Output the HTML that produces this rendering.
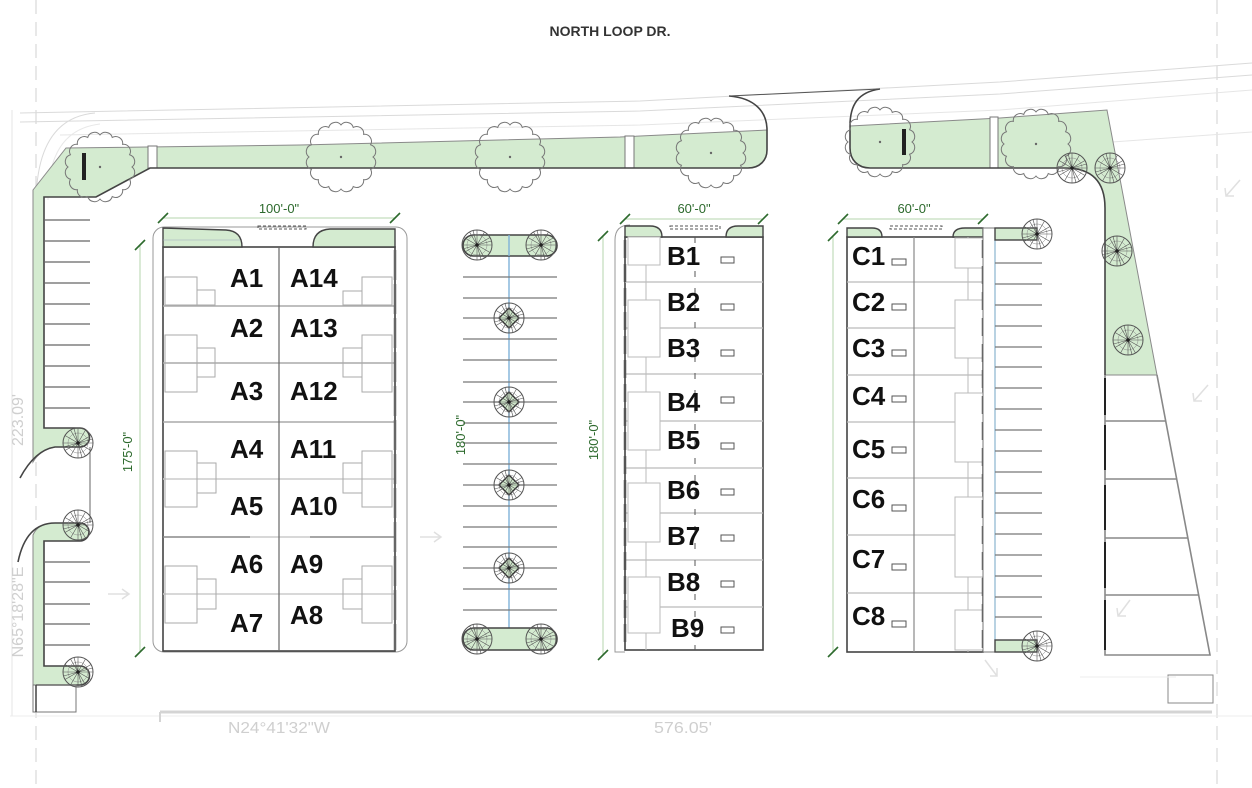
<!DOCTYPE html>
<html><head><meta charset="utf-8"><style>
html,body{margin:0;padding:0;background:#fff;}
svg{display:block;}
.lbl{font-family:"Liberation Sans",Arial,sans-serif;font-weight:bold;font-size:26px;fill:#111;}
.dim{font-family:"Liberation Sans",Arial,sans-serif;font-size:13px;fill:#2d6a2d;}
.faint{font-family:"Liberation Sans",Arial,sans-serif;font-size:16px;fill:#cfcfcf;}
</style></head><body>
<svg width="1252" height="788" viewBox="0 0 1252 788" xmlns="http://www.w3.org/2000/svg">
<defs>
<g id="sp">
<circle r="15" fill="none" stroke="#555" stroke-width="1"/>
<circle r="10" fill="none" stroke="#888" stroke-width="0.5"/>
<path d="M-15 0L15 0M-13 -7.5L13 7.5M-7.5 -13L7.5 13M0 -15L0 15M7.5 -13L-7.5 13M13 -7.5L-13 7.5M-4 -14.5L4 14.5M14.5 -4L-14.5 4" stroke="#555" stroke-width="0.6"/>
<circle r="1.8" fill="#222"/>
</g>
<g id="bt">
<path d="M32 0 A7 7 0 0 1 29.56 12.25 A7 7 0 0 1 22.63 22.63 A7 7 0 0 1 12.25 29.56 A7 7 0 0 1 0 32 A7 7 0 0 1 -12.25 29.56 A7 7 0 0 1 -22.63 22.63 A7 7 0 0 1 -29.56 12.25 A7 7 0 0 1 -32 0 A7 7 0 0 1 -29.56 -12.25 A7 7 0 0 1 -22.63 -22.63 A7 7 0 0 1 -12.25 -29.56 A7 7 0 0 1 0 -32 A7 7 0 0 1 12.25 -29.56 A7 7 0 0 1 22.63 -22.63 A7 7 0 0 1 29.56 -12.25 A7 7 0 0 1 32 0 Z" fill="none" stroke="#777" stroke-width="1"/>
<circle r="1.2" fill="#666"/>
</g>
<g id="dm">
<polygon points="0,-10 10,0 0,10 -10,0" fill="#cfe6ca" stroke="#333" stroke-width="1.4"/>
<use href="#sp"/>
</g>
</defs>

<!-- property dashed lines -->
<line x1="36" y1="0" x2="36" y2="788" stroke="#d8d8d8" stroke-width="1.2" stroke-dasharray="14 8"/>
<line x1="1217" y1="0" x2="1217" y2="788" stroke="#d8d8d8" stroke-width="1.2" stroke-dasharray="14 8"/>
<line x1="12" y1="110" x2="12" y2="716" stroke="#e6e6e6" stroke-width="1"/>

<!-- title -->
<text x="610" y="36" text-anchor="middle" style="font-family:'Liberation Sans',Arial,sans-serif;font-size:14px;font-weight:bold;fill:#333;">NORTH LOOP DR.</text>

<!-- road faint lines -->
<g fill="none" stroke="#dadada" stroke-width="1">
<path d="M20 113 L640 101 L1000 82 L1252 63"/>
<path d="M20 122 L640 111 L1000 94 L1252 75"/>
<path d="M60 135 L640 125 L1000 110 L1252 90" stroke="#e6e6e6"/>
<path d="M1112 142 L1252 132" stroke="#e6e6e6"/>
<path d="M36 205 Q36 118 95 113"/>
<path d="M48 200 Q48 130 100 124" stroke="#e8e8e8"/>
</g>

<!-- green areas -->
<g fill="#d4ebd0" stroke="#8a8a8a" stroke-width="1">
<path d="M66 148 L300 145 L620 137 L767 130 L767 150 C767 160 760 168 748 168 L150 168 L96 197 L44 197 L44 428 L80 428 A9.5 9.5 0 0 1 80 447 L55 447 Q40 450 33 462 L33 190 Z"/>
<path d="M33 535 Q38 523 55 523 L80 523 A9 9 0 0 1 80 541 L44 541 L44 666 L80 666 A9.5 9.5 0 0 1 80 685 L33 685 Z"/>
<path d="M850 126 L1000 118 L1107 110 L1157 375 L1105 375 L1105 208 Q1105 168 1065 168 L870 168 C858 168 850 160 850 148 Z"/>
</g>
<line x1="44" y1="199" x2="44" y2="428" stroke="#8ab4cf" stroke-width="1"/>

<!-- white gaps in strip -->
<g fill="#fff" stroke="#777" stroke-width="1">
<rect x="148" y="146" width="9" height="22"/>
<rect x="625" y="136" width="9" height="32"/>
<rect x="990" y="117" width="8" height="51"/>
</g>

<!-- dark curb edges -->
<g fill="none" stroke="#444" stroke-width="1.6">
<path d="M729 96 C755 98 767 112 767 130 L767 150 C767 160 760 168 748 168 L150 168 L96 197 L44 197 L44 428 L80 428 A9.5 9.5 0 0 1 80 447 L55 447 Q35 450 20 478"/>
<path d="M880 89 C858 92 850 105 850 126 L850 148 C850 160 858 168 870 168 L1065 168 Q1105 168 1105 208 L1105 375"/>
<path d="M18 562 Q26 523 55 523 L80 523 A9 9 0 0 1 80 541 L44 541 L44 666 L80 666 A9.5 9.5 0 0 1 80 685 L36 685"/>
</g>
<line x1="729" y1="96" x2="880" y2="89" stroke="#555" stroke-width="1"/>
<line x1="90" y1="447" x2="90" y2="523" stroke="#666" stroke-width="1"/>

<!-- benches -->
<rect x="82" y="153" width="4" height="27" fill="#222"/>
<rect x="902" y="129" width="4" height="26" fill="#222"/>

<!-- left stalls -->
<g stroke="#666" stroke-width="1.2">
<line x1="44" y1="220" x2="90" y2="220"/><line x1="44" y1="241" x2="90" y2="241"/>
<line x1="44" y1="262" x2="90" y2="262"/><line x1="44" y1="283" x2="90" y2="283"/>
<line x1="44" y1="304" x2="90" y2="304"/><line x1="44" y1="324" x2="90" y2="324"/>
<line x1="44" y1="345" x2="90" y2="345"/><line x1="44" y1="366" x2="90" y2="366"/>
<line x1="44" y1="387" x2="90" y2="387"/><line x1="44" y1="408" x2="90" y2="408"/>
<line x1="44" y1="562" x2="90" y2="562"/><line x1="44" y1="582" x2="90" y2="582"/>
<line x1="44" y1="604" x2="90" y2="604"/><line x1="44" y1="624" x2="90" y2="624"/>
<line x1="44" y1="645" x2="90" y2="645"/>
</g>
<rect x="33" y="685" width="43" height="27" fill="none" stroke="#777" stroke-width="1"/>
<line x1="36" y1="685" x2="36" y2="712" stroke="#444" stroke-width="1.5"/>

<!-- big trees -->
<use href="#bt" x="100" y="167"/>
<use href="#bt" x="341" y="157"/>
<use href="#bt" x="510" y="157"/>
<use href="#bt" x="711" y="153"/>
<use href="#bt" x="880" y="142"/>
<use href="#bt" x="1036" y="144"/>

<!-- spoke trees left/right -->
<use href="#sp" x="78" y="443"/>
<use href="#sp" x="78" y="525"/>
<use href="#sp" x="78" y="672"/>
<use href="#sp" x="1072" y="168"/>
<use href="#sp" x="1110" y="168"/>
<use href="#sp" x="1117" y="251"/>
<use href="#sp" x="1128" y="340"/>

<!-- right trapezoid stalls -->
<g fill="none" stroke="#888" stroke-width="1.6">
<path d="M1105 375 L1105 655 L1210 655 L1157 375"/>
<line x1="1105" y1="421" x2="1166" y2="421"/>
<line x1="1105" y1="479" x2="1177" y2="479"/>
<line x1="1105" y1="538" x2="1188" y2="538"/>
<line x1="1105" y1="595" x2="1199" y2="595"/>
</g>
<g stroke="#222" stroke-width="2">
<line x1="1105" y1="378" x2="1105" y2="415"/><line x1="1105" y1="425" x2="1105" y2="470"/>
<line x1="1105" y1="485" x2="1105" y2="530"/><line x1="1105" y1="542" x2="1105" y2="588"/>
<line x1="1105" y1="600" x2="1105" y2="650"/>
</g>
<rect x="1168" y="675" width="45" height="28" fill="none" stroke="#888" stroke-width="1"/>

<!-- ================= BUILDING A ================= -->
<rect x="153" y="227" width="254" height="425" rx="11" fill="none" stroke="#999" stroke-width="1"/>
<rect x="163" y="247" width="232" height="404" fill="#fff" stroke="#444" stroke-width="1.6"/>
<path d="M163 247 L163 228 L226 230 Q242 231 242 247 Z" fill="#d4ebd0" stroke="#444" stroke-width="1.4"/>
<path d="M395 247 L395 229 L330 229 Q313 230 313 247 Z" fill="#d4ebd0" stroke="#444" stroke-width="1.4"/>
<line x1="163" y1="240" x2="240" y2="240" stroke="#9ab" stroke-width="0.6"/>
<rect x="258" y="226" width="48" height="3" fill="none" stroke="#555" stroke-width="1" stroke-dasharray="3 2"/>
<g stroke="#aaa" stroke-width="1.5">
<line x1="163" y1="306" x2="395" y2="306"/>
<line x1="163" y1="363" x2="395" y2="363"/>
<line x1="163" y1="422" x2="395" y2="422"/>
<line x1="163" y1="479" x2="395" y2="479" stroke="#ccc"/>
<line x1="163" y1="537" x2="250" y2="537" stroke="#888"/>
<line x1="250" y1="537" x2="310" y2="537" stroke="#ccc"/>
<line x1="310" y1="537" x2="395" y2="537" stroke="#888"/>
<line x1="163" y1="594" x2="395" y2="594" stroke="#ccc"/>
</g>
<line x1="279" y1="247" x2="279" y2="651" stroke="#666" stroke-width="1.2"/>
<g fill="none" stroke="#aaa" stroke-width="1">
<rect x="165" y="277" width="32" height="28"/><rect x="197" y="290" width="18" height="15"/>
<rect x="362" y="277" width="30" height="28"/><rect x="343" y="291" width="19" height="14"/>
<rect x="165" y="335" width="32" height="57"/><rect x="197" y="348" width="18" height="29"/>
<rect x="362" y="335" width="30" height="57"/><rect x="343" y="348" width="19" height="29"/>
<rect x="165" y="451" width="32" height="56"/><rect x="197" y="463" width="19" height="30"/>
<rect x="362" y="451" width="30" height="56"/><rect x="343" y="463" width="19" height="30"/>
<rect x="165" y="566" width="32" height="57"/><rect x="197" y="579" width="19" height="30"/>
<rect x="362" y="566" width="30" height="57"/><rect x="343" y="579" width="19" height="30"/>
</g>
<line x1="395" y1="250" x2="395" y2="650" stroke="#666" stroke-width="2.5" stroke-dasharray="30 4"/>
<text class="lbl" x="230" y="287">A1</text><text class="lbl" x="290" y="287">A14</text>
<text class="lbl" x="230" y="337">A2</text><text class="lbl" x="290" y="337">A13</text>
<text class="lbl" x="230" y="400">A3</text><text class="lbl" x="290" y="400">A12</text>
<text class="lbl" x="230" y="458">A4</text><text class="lbl" x="290" y="458">A11</text>
<text class="lbl" x="230" y="515">A5</text><text class="lbl" x="290" y="515">A10</text>
<text class="lbl" x="230" y="573">A6</text><text class="lbl" x="290" y="573">A9</text>
<text class="lbl" x="230" y="632">A7</text><text class="lbl" x="290" y="624">A8</text>

<!-- ================= CENTER AISLE ================= -->
<line x1="509" y1="245" x2="509" y2="630" stroke="#7fb2d8" stroke-width="1.4"/>
<g stroke="#777" stroke-width="1.3">
<line x1="463" y1="277" x2="557" y2="277"/><line x1="463" y1="298" x2="557" y2="298"/>
<line x1="463" y1="318" x2="557" y2="318"/><line x1="463" y1="339" x2="557" y2="339"/>
<line x1="463" y1="360" x2="557" y2="360"/><line x1="463" y1="382" x2="557" y2="382"/>
<line x1="463" y1="402" x2="557" y2="402"/><line x1="463" y1="423" x2="557" y2="423"/>
<line x1="463" y1="443" x2="557" y2="443"/><line x1="463" y1="464" x2="557" y2="464"/>
<line x1="463" y1="485" x2="557" y2="485"/><line x1="463" y1="506" x2="557" y2="506"/>
<line x1="463" y1="527" x2="557" y2="527"/><line x1="463" y1="547" x2="557" y2="547"/>
<line x1="463" y1="568" x2="557" y2="568"/><line x1="463" y1="589" x2="557" y2="589"/>
<line x1="463" y1="610" x2="557" y2="610"/>
</g>
<rect x="463" y="235" width="94" height="21" rx="10.5" fill="#d4ebd0" stroke="#444" stroke-width="1.6"/>
<rect x="463" y="628" width="94" height="22" rx="11" fill="#d4ebd0" stroke="#444" stroke-width="1.6"/>
<line x1="509" y1="235" x2="509" y2="256" stroke="#7fb2d8" stroke-width="1.4"/>
<use href="#sp" x="477" y="245"/><use href="#sp" x="541" y="245"/>
<use href="#sp" x="477" y="639"/><use href="#sp" x="541" y="639"/>
<use href="#dm" x="509" y="318"/><use href="#dm" x="509" y="402"/>
<use href="#dm" x="509" y="485"/><use href="#dm" x="509" y="568"/>

<!-- ================= BUILDING B ================= -->
<path d="M630 225 Q615 225 615 240 L615 652 L625 652" fill="none" stroke="#999" stroke-width="1"/>
<rect x="625" y="237" width="138" height="413" fill="#fff" stroke="#444" stroke-width="1.6"/>
<path d="M625 237 L625 226 L650 226 Q662 226 662 237 Z" fill="#d4ebd0" stroke="#444" stroke-width="1.4"/>
<path d="M763 237 L763 226 L738 226 Q726 226 726 237 Z" fill="#d4ebd0" stroke="#444" stroke-width="1.4"/>
<rect x="670" y="226" width="50" height="3" fill="none" stroke="#555" stroke-width="1" stroke-dasharray="3 2"/>
<g stroke="#bbb" stroke-width="1.3">
<line x1="625" y1="282" x2="763" y2="282"/><line x1="625" y1="328" x2="763" y2="328"/>
<line x1="625" y1="374" x2="763" y2="374"/><line x1="625" y1="421" x2="763" y2="421"/>
<line x1="625" y1="468" x2="763" y2="468"/><line x1="625" y1="513" x2="763" y2="513"/>
<line x1="625" y1="560" x2="763" y2="560"/><line x1="625" y1="607" x2="763" y2="607"/>
</g>
<line x1="646" y1="237" x2="646" y2="650" stroke="#bbb" stroke-width="1"/>
<g fill="#fff" stroke="#bbb" stroke-width="1">
<rect x="628" y="237" width="32" height="28"/><rect x="628" y="300" width="32" height="57"/>
<rect x="628" y="392" width="32" height="58"/><rect x="628" y="483" width="32" height="59"/>
<rect x="628" y="577" width="32" height="56"/>
</g>
<line x1="625" y1="240" x2="625" y2="648" stroke="#555" stroke-width="2.5" stroke-dasharray="18 6"/>
<line x1="695" y1="237" x2="695" y2="650" stroke="#555" stroke-width="1" stroke-dasharray="6 11"/>
<g fill="#fff" stroke="#555" stroke-width="1">
<rect x="721" y="257" width="13" height="6"/><rect x="721" y="304" width="13" height="6"/>
<rect x="721" y="350" width="13" height="6"/><rect x="721" y="397" width="13" height="6"/>
<rect x="721" y="443" width="13" height="6"/><rect x="721" y="489" width="13" height="6"/>
<rect x="721" y="535" width="13" height="6"/><rect x="721" y="581" width="13" height="6"/>
<rect x="721" y="627" width="13" height="6"/>
</g>
<text class="lbl" x="667" y="265">B1</text>
<text class="lbl" x="667" y="311">B2</text>
<text class="lbl" x="667" y="357">B3</text>
<text class="lbl" x="667" y="411">B4</text>
<text class="lbl" x="667" y="449">B5</text>
<text class="lbl" x="667" y="499">B6</text>
<text class="lbl" x="667" y="545">B7</text>
<text class="lbl" x="667" y="591">B8</text>
<text class="lbl" x="671" y="637">B9</text>

<!-- ================= BUILDING C ================= -->
<rect x="847" y="237" width="136" height="415" fill="#fff" stroke="#444" stroke-width="1.6"/>
<path d="M847 237 L847 228 L872 228 Q882 228 882 237 Z" fill="#d4ebd0" stroke="#444" stroke-width="1.4"/>
<path d="M983 237 L983 228 L965 228 Q953 228 953 237 Z" fill="#d4ebd0" stroke="#444" stroke-width="1.4"/>
<rect x="890" y="226" width="52" height="3" fill="none" stroke="#555" stroke-width="1" stroke-dasharray="3 2"/>
<g stroke="#bbb" stroke-width="1.3">
<line x1="847" y1="282" x2="983" y2="282"/><line x1="847" y1="328" x2="983" y2="328"/>
<line x1="847" y1="375" x2="983" y2="375"/><line x1="847" y1="422" x2="983" y2="422"/>
<line x1="847" y1="478" x2="983" y2="478"/><line x1="847" y1="535" x2="983" y2="535"/>
<line x1="847" y1="593" x2="983" y2="593"/>
</g>
<line x1="914" y1="237" x2="914" y2="652" stroke="#888" stroke-width="1.2"/>
<line x1="968" y1="237" x2="968" y2="652" stroke="#bbb" stroke-width="1"/>
<g fill="#fff" stroke="#bbb" stroke-width="1">
<rect x="955" y="238" width="28" height="30"/><rect x="955" y="300" width="28" height="58"/>
<rect x="955" y="393" width="28" height="69"/><rect x="955" y="497" width="28" height="80"/>
<rect x="955" y="610" width="28" height="40"/>
</g>
<line x1="983" y1="240" x2="983" y2="650" stroke="#555" stroke-width="2.5" stroke-dasharray="18 8"/>
<g fill="#fff" stroke="#555" stroke-width="1">
<rect x="892" y="259" width="14" height="6"/><rect x="892" y="304" width="14" height="6"/>
<rect x="892" y="350" width="14" height="6"/><rect x="892" y="396" width="14" height="6"/>
<rect x="892" y="447" width="14" height="6"/><rect x="892" y="505" width="14" height="6"/>
<rect x="892" y="564" width="14" height="6"/><rect x="892" y="621" width="14" height="6"/>
</g>
<text class="lbl" x="852" y="265">C1</text>
<text class="lbl" x="852" y="311">C2</text>
<text class="lbl" x="852" y="357">C3</text>
<text class="lbl" x="852" y="405">C4</text>
<text class="lbl" x="852" y="458">C5</text>
<text class="lbl" x="852" y="508">C6</text>
<text class="lbl" x="852" y="568">C7</text>
<text class="lbl" x="852" y="625">C8</text>

<!-- right of C: walk + stalls -->
<rect x="983" y="228" width="12" height="424" fill="#fff" stroke="#777" stroke-width="1"/>
<line x1="995" y1="240" x2="995" y2="640" stroke="#8ab4cf" stroke-width="1.2"/>
<g stroke="#777" stroke-width="1.3">
<line x1="995" y1="263" x2="1042" y2="263"/><line x1="995" y1="284" x2="1042" y2="284"/>
<line x1="995" y1="305" x2="1042" y2="305"/><line x1="995" y1="326" x2="1042" y2="326"/>
<line x1="995" y1="347" x2="1042" y2="347"/><line x1="995" y1="367" x2="1042" y2="367"/>
<line x1="995" y1="388" x2="1042" y2="388"/><line x1="995" y1="409" x2="1042" y2="409"/>
<line x1="995" y1="430" x2="1042" y2="430"/><line x1="995" y1="451" x2="1042" y2="451"/>
<line x1="995" y1="472" x2="1042" y2="472"/><line x1="995" y1="493" x2="1042" y2="493"/>
<line x1="995" y1="513" x2="1042" y2="513"/><line x1="995" y1="534" x2="1042" y2="534"/>
<line x1="995" y1="555" x2="1042" y2="555"/><line x1="995" y1="576" x2="1042" y2="576"/>
<line x1="995" y1="597" x2="1042" y2="597"/><line x1="995" y1="617" x2="1042" y2="617"/>
</g>
<rect x="995" y="228" width="42" height="12" fill="#d4ebd0" stroke="#444" stroke-width="1.4"/>
<rect x="995" y="640" width="42" height="12" fill="#d4ebd0" stroke="#444" stroke-width="1.4"/>
<use href="#sp" x="1037" y="234"/>
<use href="#sp" x="1037" y="646"/>

<!-- dimensions -->
<g stroke="#b4d6ad" stroke-width="1">
<line x1="163" y1="218" x2="395" y2="218"/>
<line x1="625" y1="219" x2="763" y2="219"/>
<line x1="843" y1="219" x2="983" y2="219"/>
<line x1="140" y1="245" x2="140" y2="652"/>
<line x1="603" y1="236" x2="603" y2="655"/>
<line x1="833" y1="236" x2="833" y2="652"/>
</g>
<g stroke="#2d6a2d" stroke-width="1.6">
<line x1="158" y1="223" x2="168" y2="213"/><line x1="390" y1="223" x2="400" y2="213"/>
<line x1="620" y1="224" x2="630" y2="214"/><line x1="758" y1="224" x2="768" y2="214"/>
<line x1="838" y1="224" x2="848" y2="214"/><line x1="978" y1="224" x2="988" y2="214"/>
<line x1="135" y1="250" x2="145" y2="240"/><line x1="135" y1="657" x2="145" y2="647"/>
<line x1="598" y1="241" x2="608" y2="231"/><line x1="598" y1="660" x2="608" y2="650"/>
<line x1="828" y1="241" x2="838" y2="231"/><line x1="828" y1="657" x2="838" y2="647"/>
</g>
<text class="dim" x="279" y="213" text-anchor="middle">100'-0"</text>
<text class="dim" x="694" y="213" text-anchor="middle">60'-0"</text>
<text class="dim" x="914" y="213" text-anchor="middle">60'-0"</text>
<text class="dim" transform="translate(132,452) rotate(-90)" text-anchor="middle">175'-0"</text>
<text class="dim" transform="translate(465,435) rotate(-90)" text-anchor="middle">180'-0"</text>
<text class="dim" transform="translate(598,440) rotate(-90)" text-anchor="middle">180'-0"</text>

<!-- faint arrows -->
<g fill="none" stroke="#e0e0e0" stroke-width="1.5">
<path d="M420 537 L440 537 M434 532 L441 537 L434 542"/>
<path d="M108 594 L128 594 M122 589 L129 594 L122 599"/>
<path d="M1208 385 L1194 401 M1193 393 L1194 401 L1202 401"/>
<path d="M1130 600 L1118 616 M1117 608 L1118 616 L1126 616"/>
<path d="M985 660 L997 676 M990 676 L997 676 L997 668"/>
<path d="M1240 180 L1226 196 M1225 188 L1226 196 L1234 196"/>
</g>

<!-- bottom boundary -->
<line x1="10" y1="716" x2="1252" y2="716" stroke="#ececec" stroke-width="1"/>
<line x1="160" y1="712" x2="1212" y2="712" stroke="#d4d4d4" stroke-width="3"/>
<line x1="160" y1="712" x2="160" y2="722" stroke="#d4d4d4" stroke-width="2"/>
<line x1="1080" y1="677" x2="1176" y2="677" stroke="#eee" stroke-width="1"/>
<text class="faint" x="228" y="733" textLength="102" lengthAdjust="spacingAndGlyphs">N24°41'32"W</text>
<text class="faint" x="654" y="733" textLength="58" lengthAdjust="spacingAndGlyphs">576.05'</text>
<text class="faint" transform="translate(23,612) rotate(-90)" text-anchor="middle">N65°18'28"E</text>
<text class="faint" transform="translate(23,420) rotate(-90)" text-anchor="middle">223.09'</text>
</svg>
</body></html>
